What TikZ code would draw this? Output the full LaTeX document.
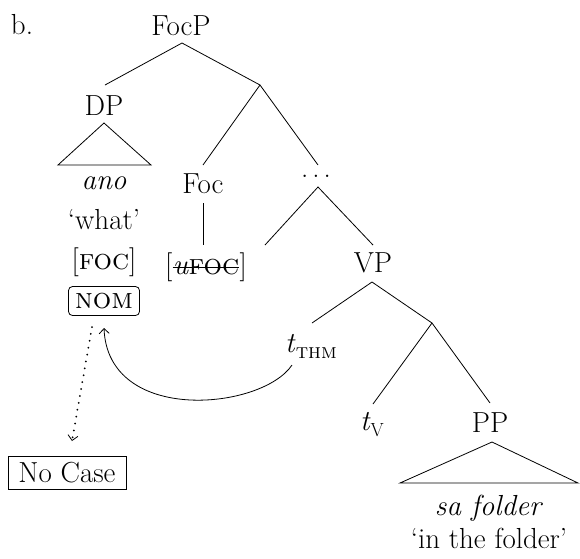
\documentclass[tikz,border=0pt]{standalone}
\usetikzlibrary{arrows.meta}
\newcommand{\subsc}[1]{\raisebox{-0.22em}{\fontsize{21}{24}\selectfont\textsc{#1}}}
\newcommand{\subrm}[1]{\raisebox{-0.22em}{\fontsize{19}{22}\selectfont #1}}
\begin{document}
\begin{tikzpicture}[x=1pt,y=-1pt,
  font=\fontsize{29}{34}\selectfont,
  lbl/.style={inner sep=0pt, anchor=base},
  edge/.style={line width=0.8pt},
  tip/.style={-{Straight Barb[length=5pt,width=10pt]}}]
\useasboundingbox (0,0) rectangle (580,558);
% labels
\node[lbl] (b) at (22,34) {b.};
\node[lbl] (focp) at (181,35) {FocP};
\node[lbl] (dp) at (104,115) {DP};
\node[lbl] (ano) at (104,189) {\textit{ano}};
\node[lbl] (what) at (104,229) {‘what’};
\node[lbl] (foc1) at (104,269) {[\textsc{foc}]};
\node[draw, rounded corners=4pt, inner sep=0pt, minimum width=71pt, minimum height=29pt, line width=0.8pt] (nom) at (104,301) {\textsc{nom}};
\node[lbl] (foc) at (203,193) {Foc};
\node[lbl] (ufoc) at (206,274) {\textit{u}\textsc{foc}};
\node[lbl, anchor=base east] (lbr) at (ufoc.base west) {[};
\node[lbl, anchor=base west] (rbr) at (ufoc.base east) {]};
\draw[edge] ([yshift=7pt]ufoc.base west) -- ([yshift=7pt]ufoc.base east);
\node[lbl] (dots) at (316,177) {.\hspace{4pt}.\hspace{4pt}.};
\node[lbl] (vp) at (373,272) {VP};
\node[lbl] (tthm) at (311,352) {\textit{t}\subsc{thm}};
\node[lbl] (tv) at (372,430) {\textit{t}\subrm{V}};
\node[lbl] (pp) at (490,432) {PP};
\node[lbl] (safolder) at (489,515) {\textit{sa folder}};
\node[lbl] (inthe) at (489,548) {‘in the folder’};
\node[draw, inner sep=0pt, minimum width=118pt, minimum height=33pt, line width=0.8pt] (nocase) at (67,473) {No Case};
% branch points
\coordinate (focpb) at (182,43);
\coordinate (dpt) at (105,85);
\coordinate (br1) at (260,85);
\coordinate (foct) at (203,165);
\coordinate (dotst) at (318,165);
\coordinate (dotsb) at (318,187);
\coordinate (empty) at (265,245);
\coordinate (vpt) at (373,245);
\coordinate (vpb) at (372,282);
\coordinate (tthmt) at (312,323);
\coordinate (br2) at (432,323);
\coordinate (tvt) at (373,404);
\coordinate (ppt) at (490,403);
\coordinate (focb) at (203,203);
\coordinate (ufoct) at (203,245);
% tree edges
\draw[edge] (dpt) -- (focpb) -- (br1);
\draw[edge] (foct) -- (br1) -- (dotst);
\draw[edge] (empty) -- (dotsb) -- (vpt);
\draw[edge] (tthmt) -- (vpb) -- (br2);
\draw[edge] (tvt) -- (br2) -- (ppt);
\draw[edge] (focb) -- (ufoct);
% triangles
\draw[edge] (104,123) -- (58,165) -- (151,165) -- cycle;
\draw[edge] (492,442) -- (400,483) -- (578,483) -- cycle;
% movement arrow
\coordinate (mvs) at (292,365);
\coordinate (mve) at (104,328);
\draw[edge,tip] (mvs) .. controls (262,410) and (108,425) .. (mve);
% dotted arrow
\coordinate (dts) at (92,327);
\coordinate (dte) at (72,441);
\draw[line width=2pt, line cap=round, dash pattern=on 0pt off 7pt, -{Straight Barb[length=5pt,width=10pt,line width=0.8pt]}] (dts) -- (dte);
\end{tikzpicture}
\end{document}
